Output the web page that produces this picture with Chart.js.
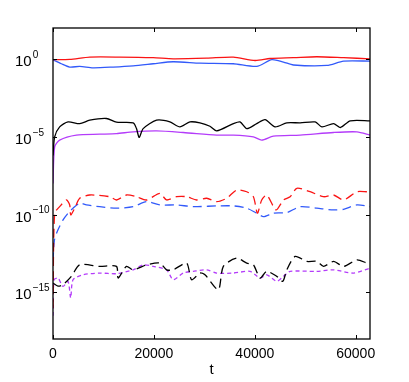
<!DOCTYPE html>
<html>
<head>
<meta charset="utf-8">
<script src="https://cdn.jsdelivr.net/npm/chart.js@4"></script>
<style>
  html, body { margin: 0; padding: 0; background: #fff; }
  #wrap { width: 409px; height: 382px; }
</style>
</head>
<body>
<div id="wrap"><canvas id="chart" width="409" height="382"></canvas></div>
<script>
// values, as [t, log10(value)]
var redSolid = [[0,-0.04],[3310,-0.02],[7280,0.13],[13240,0.13],[19860,0.09],[23830,0.02],[30450,0.06],[35750,0.13],[40050,-0.09],[43030,0.04],[47660,0.09],[52300,0.15],[57590,0.09],[62890,0.02]];
var blueSolid = [[0,-0.04],[1655,-0.30],[3310,-0.51],[5300,-0.47],[7940,-0.56],[11920,-0.51],[15890,-0.43],[19860,-0.30],[23830,-0.17],[29130,-0.26],[35750,-0.30],[40380,-0.47],[43360,-0.04],[45680,-0.19],[47660,-0.38],[54280,-0.41],[57590,-0.13],[62890,-0.13]];
var blackSolid = [[0,-6.2],[330,-5.0],[1320,-4.36],[2980,-4.04],[5300,-4.15],[7280,-3.93],[10590,-3.82],[12580,-4.06],[15890,-4.10],[16550,-4.47],[17080,-5.04],[17870,-4.47],[20520,-3.93],[23170,-4.04],[25160,-4.36],[27140,-4.04],[29130,-4.10],[31110,-4.32],[32440,-4.62],[35750,-4.15],[37070,-4.04],[38400,-4.47],[40380,-4.15],[42040,-3.89],[44020,-4.36],[46340,-4.10],[48990,-4.10],[51970,-4.04],[53290,-4.36],[55610,-4.15],[56930,-4.40],[58920,-3.97],[62890,-3.97]];
var magentaSolid = [[0,-8.0],[330,-5.64],[1320,-5.21],[4630,-4.89],[9270,-4.83],[12580,-4.79],[15890,-4.68],[20520,-4.62],[25820,-4.72],[32440,-4.89],[35750,-4.89],[39720,-5.0],[41370,-5.21],[43690,-4.96],[48990,-4.89],[55610,-4.72],[60240,-4.68],[62890,-4.89]];
var redDashed = [[0,-16],[330,-9.91],[1320,-9.49],[2650,-9.06],[3310,-9.38],[3510,-10.02],[4300,-9.59],[5300,-8.95],[7280,-8.74],[11250,-8.85],[12580,-9.06],[14560,-8.74],[16550,-8.85],[18540,-9.06],[21180,-8.63],[22510,-9.06],[24490,-8.85],[26480,-8.85],[28470,-9.06],[30450,-8.95],[32440,-9.17],[34420,-8.95],[36410,-8.42],[38400,-8.53],[39720,-8.85],[40510,-9.91],[41370,-9.06],[42370,-8.74],[44220,-9.70],[45680,-9.06],[47000,-8.85],[48330,-8.31],[50970,-8.53],[53620,-8.85],[55610,-8.74],[57590,-9.06],[60240,-8.53],[62230,-8.53]];
var blueDashed = [[0,-13],[300,-11.6],[990,-10.98],[1990,-10.34],[2980,-9.91],[3970,-9.59],[5300,-9.27],[6620,-9.38],[9270,-9.49],[12580,-9.59],[15890,-9.49],[18540,-9.17],[21180,-9.38],[24490,-9.38],[27800,-9.49],[32440,-9.44],[35750,-9.44],[38400,-9.59],[40380,-9.91],[41710,-10.13],[43690,-9.91],[46340,-9.87],[48990,-9.49],[52300,-9.59],[55610,-9.70],[57590,-9.66],[60240,-9.38],[62890,-9.49]];
var blackDashed = [[0,-14.4],[990,-14.6],[1990,-14.5],[3640,-13.97],[5300,-13.23],[9270,-13.33],[12580,-13.33],[12910,-14.08],[14560,-13.33],[15890,-13.55],[18540,-13.23],[21180,-13.12],[22510,-13.55],[23830,-13.55],[26480,-13.12],[27470,-14.19],[29130,-13.76],[30120,-13.87],[32770,-14.83],[33760,-13.33],[36410,-12.80],[38400,-13.12],[39720,-13.23],[41040,-14.08],[42370,-13.65],[44350,-13.97],[45550,-14.29],[46340,-13.55],[48000,-12.69],[50310,-13.01],[52300,-13.01],[53620,-13.33],[55610,-13.01],[57590,-13.33],[60240,-12.91],[62230,-13.12]];
var magentaDashed = [[0,-16.5],[200,-14.2],[990,-14.08],[1990,-14.62],[2980,-14.29],[3510,-15.36],[3970,-14.19],[5960,-13.87],[9270,-13.76],[12580,-13.80],[15890,-13.55],[17870,-13.23],[19860,-13.33],[22510,-13.55],[23830,-14.19],[25820,-13.76],[27800,-13.65],[30450,-13.55],[32440,-13.76],[35750,-13.76],[39060,-13.65],[41040,-14.08],[42370,-13.87],[44350,-14.29],[45680,-13.97],[47000,-13.65],[52300,-13.65],[55610,-13.55],[59580,-13.76],[62890,-13.44]];

var xTicks = [0, 20000, 40000, 60000];
var yTickExps = [0, -5, -10, -15];
var tMax = 62832;
var yMin = 1e-18, yMax = 1e2;

function toPoints(arr) {
    return arr.map(function(p) { return { x: p[0], y: Math.pow(10, p[1]) }; });
}

function makeSet(arr, color, dash) {
    return {
        data: toPoints(arr),
        borderColor: color,
        borderWidth: 1.3,
        borderDash: dash || [],
        pointRadius: 0,
        tension: 0.25,
        fill: false
    };
}

var RED = 'rgb(250,20,20)';
var BLUE = 'rgb(50,90,250)';
var BLACK = 'rgb(0,0,0)';
var MAG = 'rgb(180,60,250)';

// frame, inward ticks and the 10^n labels
var framePlugin = {
    id: 'frame',
    afterDraw: function(chart) {
        var ctx = chart.ctx;
        var a = chart.chartArea;
        var xs = chart.scales.x, ys = chart.scales.y;
        ctx.save();
        ctx.strokeStyle = '#000';
        ctx.lineWidth = 1.3;
        ctx.strokeRect(a.left, a.top, a.right - a.left, a.bottom - a.top);
        ctx.lineWidth = 1;
        ctx.beginPath();
        xTicks.forEach(function(v) {
            var px = Math.round(xs.getPixelForValue(v)) + 0.5;
            ctx.moveTo(px, a.bottom); ctx.lineTo(px, a.bottom - 4);
            ctx.moveTo(px, a.top); ctx.lineTo(px, a.top + 4);
        });
        yTickExps.forEach(function(e) {
            var py = Math.round(ys.getPixelForValue(Math.pow(10, e))) + 0.5;
            ctx.moveTo(a.left, py); ctx.lineTo(a.left + 4, py);
            ctx.moveTo(a.right, py); ctx.lineTo(a.right - 4, py);
        });
        ctx.stroke();

        ctx.fillStyle = '#000';
        ctx.textBaseline = 'middle';
        ctx.textAlign = 'left';
        yTickExps.forEach(function(e) {
            var py = ys.getPixelForValue(Math.pow(10, e));
            ctx.font = '15px "Liberation Sans", Arial, sans-serif';
            ctx.fillText('10', 15, py + 3);
            var w = ctx.measureText('10').width;
            ctx.font = '10px "Liberation Sans", Arial, sans-serif';
            ctx.fillText(e === 0 ? '0' : '\u2212' + Math.abs(e), 15 + w + 1, py - 4);
        });
        ctx.font = '15px "Liberation Sans", Arial, sans-serif';
        ctx.textAlign = 'center';
        ctx.fillText('t', (a.left + a.right) / 2, 370);
        ctx.restore();
    }
};

new Chart(document.getElementById('chart'), {
    type: 'line',
    data: {
        datasets: [
            makeSet(redSolid, RED),
            makeSet(blueSolid, BLUE),
            makeSet(blackSolid, BLACK),
            makeSet(magentaSolid, MAG),
            makeSet(redDashed, RED, [9, 5]),
            makeSet(blueDashed, BLUE, [9, 5]),
            makeSet(blackDashed, BLACK, [9, 5]),
            makeSet(magentaDashed, MAG, [4, 3])
        ]
    },
    options: {
        responsive: false,
        animation: false,
        layout: { padding: { top: 28, right: 39, left: 0, bottom: 0 } },
        plugins: { legend: { display: false }, tooltip: { enabled: false } },
        scales: {
            x: {
                type: 'linear',
                min: 0,
                max: tMax,
                grid: { display: false, drawTicks: false },
                border: { display: false },
                afterBuildTicks: function(scale) {
                    scale.ticks = xTicks.map(function(v) { return { value: v }; });
                },
                afterFit: function(scale) { scale.height = 43; },
                ticks: {
                    maxRotation: 0,
                    autoSkip: false,
                    padding: 7,
                    color: '#000',
                    font: { family: '"Liberation Sans", Arial, sans-serif', size: 14 },
                    callback: function(v) { return String(v); }
                }
            },
            y: {
                type: 'logarithmic',
                min: yMin,
                max: yMax,
                grid: { display: false, drawTicks: false },
                border: { display: false },
                afterBuildTicks: function(scale) {
                    scale.ticks = yTickExps.map(function(e) { return { value: Math.pow(10, e) }; });
                },
                afterFit: function(scale) { scale.width = 53; },
                ticks: { callback: function() { return ''; } }
            }
        }
    },
    plugins: [framePlugin]
});
</script>
</body>
</html>
